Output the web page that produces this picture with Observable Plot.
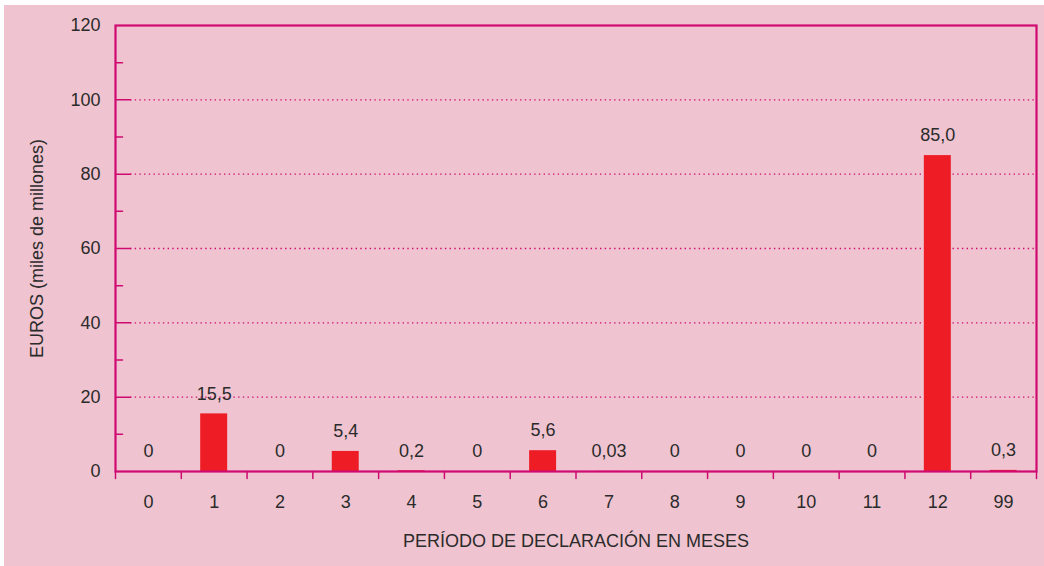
<!DOCTYPE html>
<html>
<head>
<meta charset="utf-8">
<script src="https://cdn.jsdelivr.net/npm/d3@7"></script>
<script src="https://cdn.jsdelivr.net/npm/@observablehq/plot@0.6"></script>
<style>
  html, body { margin: 0; padding: 0; background: #ffffff; }
  #wrap { padding: 5px 0 0 4px; width: 1040px; height: 561px; }
</style>
</head>
<body>
<div id="wrap"></div>
<script>
// Data
const categories = ["0","1","2","3","4","5","6","7","8","9","10","11","12","99"];
const values = [0, 15.5, 0, 5.4, 0.2, 0, 5.6, 0.03, 0, 0, 0, 0, 85.0, 0.3];
const valueLabels = ["0","15,5","0","5,4","0,2","0","5,6","0,03","0","0","0","0","85,0","0,3"];
const yTicks = [0, 20, 40, 60, 80, 100, 120];
const yMinorTicks = [10, 30, 50, 70, 90, 110];
const gridValues = [20, 40, 60, 80, 100];
const xTitle = "PERÍODO DE DECLARACIÓN EN MESES";
const yTitle = "EUROS (miles de millones)";

const data = categories.map((c, i) => ({cat: c, value: values[i], label: valueLabels[i]}));

const W = 1040, H = 561;
const mL = 111, mR = 8, mT = 20, mB = 95;
const step = (W - mL - mR) / categories.length;
const magenta = "#cf0a70";
const textColor = "#2b2b2b";
const font = "'Liberation Sans', Arial, Helvetica, sans-serif";
const fs = 18;

const tickShape = {draw(context, l) { context.moveTo(0, 0); context.lineTo(0, -l); }};

const chart = Plot.plot({
  width: W,
  height: H,
  marginLeft: mL,
  marginRight: mR,
  marginTop: mT,
  marginBottom: mB,
  style: {background: "#efc4d0", fontFamily: font, fontSize: fs + "px", color: textColor, overflow: "visible"},
  x: {domain: categories, paddingInner: 0.59, paddingOuter: 0.295, round: false, label: null},
  y: {domain: [0, 120], label: null},
  marks: [
    Plot.ruleY(gridValues, {stroke: magenta, strokeWidth: 1.4, strokeDasharray: "1.4,3.3", insetLeft: 15}),
    Plot.barY(data, {x: "cat", y: "value", fill: "#ee1c25"}),
    Plot.frame({stroke: magenta, strokeWidth: 2.2}),
    // major inward ticks
    Plot.vector(gridValues, {y: d => d, frameAnchor: "left", length: 15, rotate: 90, anchor: "start", shape: tickShape, stroke: magenta, strokeWidth: 1.5}),
    // minor inward ticks
    Plot.vector(yMinorTicks, {y: d => d, frameAnchor: "left", length: 7, rotate: 90, anchor: "start", shape: tickShape, stroke: magenta, strokeWidth: 1.5}),
    // x boundary ticks
    Plot.vector(categories, {x: d => d, frameAnchor: "bottom", length: 7, rotate: 180, anchor: "start", shape: tickShape, stroke: magenta, strokeWidth: 1.5, dx: -step / 2}),
    Plot.vector(categories.slice(-1), {x: d => d, frameAnchor: "bottom", length: 7, rotate: 180, anchor: "start", shape: tickShape, stroke: magenta, strokeWidth: 1.5, dx: step / 2}),
    Plot.axisY(yTicks, {tickSize: 0, tickPadding: 15, fill: textColor, fontSize: fs, label: null}),
    Plot.axisX({tickSize: 0, tickPadding: 24, fill: textColor, fontSize: fs, label: null}),
    Plot.text(data, {x: "cat", y: "value", text: "label", dy: -20, fill: textColor, fontSize: fs}),
    Plot.text([xTitle], {text: d => d, frameAnchor: "bottom", dy: 75, fill: textColor, fontSize: fs}),
    Plot.text([yTitle], {text: d => d, frameAnchor: "left", textAnchor: "middle", dx: -78, rotate: -90, fill: textColor, fontSize: fs})
  ]
});
document.getElementById("wrap").appendChild(chart);
</script>
</body>
</html>
